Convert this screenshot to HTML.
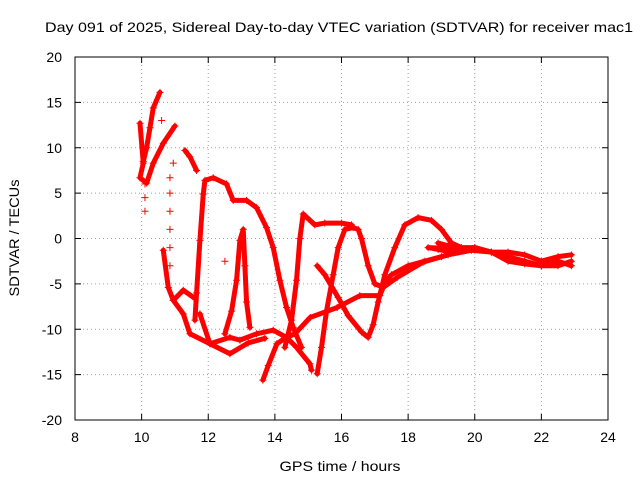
<!DOCTYPE html>
<html><head><meta charset="utf-8"><style>
html,body{margin:0;padding:0;background:#fff;}
svg{display:block;font-family:"Liberation Sans",sans-serif;}
</style></head><body>
<svg id="chart" width="640" height="480">
<text x="339" y="32" font-size="14" text-anchor="middle" textLength="588" lengthAdjust="spacingAndGlyphs">Day 091 of 2025, Sidereal Day-to-day VTEC variation (SDTVAR) for receiver mac1</text>
<text x="340" y="471" font-size="14" text-anchor="middle" textLength="121" lengthAdjust="spacingAndGlyphs">GPS time / hours</text>
<text x="19" y="238" font-size="14" text-anchor="middle" textLength="117" lengthAdjust="spacingAndGlyphs" transform="rotate(-90 19 238)">SDTVAR / TECUs</text>
<g id="grid"></g>
<g id="ticks"></g>
<g id="marks"></g>
<rect x="75" y="57" width="533" height="363" fill="none" stroke="#000"/>
</svg>
<script>
const xTicks=[8,10,12,14,16,18,20,22,24];
const yTicks=[20,15,10,5,0,-5,-10,-15,-20];
const s1=[[9.95,12.7],[10.05,8.3],[9.95,6.7],[10.15,6.1],[10.35,8.3],[10.65,10.5],[11,12.4]];
const s2=[[10.05,8.5],[10.15,10],[10.25,12.2],[10.35,14.4],[10.55,16.1]];
const s3=[[10.1,6],[10.1,4.5],[10.1,3]];
const s4=[[10.65,-1.3],[10.8,-5.4],[10.95,-6.8],[11.25,-8.3],[11.45,-10.5],[12.05,-11.6],[12.65,-10.9],[12.95,-11.2],[13.45,-10.5],[13.95,-10.1],[14.35,-10.9],[14.65,-12],[15.05,-13.8],[15.1,-14.5]];
const s4b=[[10.95,-6.8],[11.25,-5.7],[11.6,-6.6]];
const s5=[[11.3,9.7],[11.45,9],[11.65,7.5]];
const s6=[[11.6,-9],[11.65,-6],[11.75,-0.2],[11.85,4.9],[11.9,6.4],[12.15,6.7],[12.55,6],[12.75,4.2],[13.15,4.2],[13.45,3.4],[13.75,1.2],[13.95,-1],[14.15,-4.6],[14.35,-7.6],[14.55,-9.8],[14.8,-12]];
const s6b=[[11.75,-8.3],[12.05,-11.6],[12.65,-12.7],[13.2,-11.5],[13.7,-11]];
const s7=[[12.5,-10.5],[12.7,-8],[12.85,-4.6],[12.95,-0.2],[13.05,1],[13.1,-3],[13.15,-7],[13.25,-9.8]];
const s8=[[13.64,-15.6],[13.8,-14],[14.06,-11.6],[14.3,-11],[14.6,-10.5],[15.06,-8.7],[15.87,-7.6],[16.55,-6.3],[17.15,-6.3],[17.25,-5.4],[17.67,-4.3],[18.45,-2.6],[19.2,-1.8],[19.9,-1.3],[20.5,-1.5],[21,-2],[21.5,-2.5],[22,-3],[22.5,-3],[22.9,-2.5]];
const s9=[[14.3,-12],[14.5,-9],[14.65,-4.6],[14.75,0],[14.85,2.7],[15.2,1.5],[15.5,1.7],[16,1.7],[16.3,1.5]];
const s10=[[15.27,-14.9],[15.4,-12],[15.55,-8],[15.75,-4],[15.9,-1],[16.1,1],[16.35,1.2],[16.5,1],[16.6,0],[16.8,-3],[17,-5],[17.2,-5.3],[17.5,-4],[18,-3],[18.5,-2.5],[19,-2],[19.5,-1.5],[20,-1],[20.5,-1.5],[21,-1.5],[21.5,-1.8],[22,-2.5],[22.5,-2],[22.9,-1.8]];
const s11=[[15.27,-3],[15.5,-4],[15.9,-6.5],[16.2,-8.5],[16.6,-10.3],[16.8,-10.9],[16.95,-9.5],[17.1,-7],[17.3,-4],[17.6,-1],[17.9,1.5],[18.3,2.3],[18.7,2],[19,1],[19.3,-0.5],[19.6,-1],[20,-1],[20.5,-1.5],[21,-2.5],[21.5,-2.8],[22,-3],[22.5,-2.5],[22.9,-3]];
const s12=[[18.9,-0.5],[19.2,-0.8],[19.5,-1],[20,-1.2],[18.6,-1],[18.9,-1.2],[19.3,-1.5]];
const isolated=[[10.6,13],[10.95,8.3],[10.85,6.7],[10.85,5],[10.85,3],[10.85,1],[10.85,-1],[10.85,-3],[12.5,-2.5]];
const series=[s1,s2,s3,s4,s4b,s5,s6,s6b,s7,s8,s9,s10,s11,s12];
const X=v=>75+(v-8)*533/16, Y=v=>238.5-v*363/40;
const NS='http://www.w3.org/2000/svg';
function mk(t,a,p){const e=document.createElementNS(NS,t);for(const k in a)e.setAttribute(k,a[k]);p.appendChild(e);return e;}
const grid=document.getElementById('grid'),ticks=document.getElementById('ticks'),marks=document.getElementById('marks');
xTicks.forEach(v=>{const x=X(v);
 if(v>8&&v<24){const l=mk('line',{x1:x,x2:x,y1:57,y2:420,stroke:'#a0a0a0','stroke-dasharray':'1,3'},grid);}
 mk('line',{x1:x,x2:x,y1:420,y2:414,stroke:'#000'},ticks);mk('line',{x1:x,x2:x,y1:57,y2:63,stroke:'#000'},ticks);
 const t=mk('text',{x:x,y:442,'font-size':14,'text-anchor':'middle'},ticks);t.textContent=v;
 });
yTicks.forEach(v=>{const y=Y(v);
 if(v>-20&&v<20){const l=mk('line',{x1:75,x2:608,y1:y,y2:y,stroke:'#a0a0a0','stroke-dasharray':'1,3'},grid);}
 mk('line',{x1:75,x2:81,y1:y,y2:y,stroke:'#000'},ticks);mk('line',{x1:608,x2:602,y1:y,y2:y,stroke:'#000'},ticks);
 const t=mk('text',{x:62,y:y+5,'font-size':14,'text-anchor':'end'},ticks);t.textContent=v;
 });
function plus(p){const x=X(p[0]),y=Y(p[1]);
 const g=mk('path',{d:`M${x-3.5},${y}h7M${x},${y-3.5}v7`,stroke:'#f00','stroke-width':1,fill:'none'},marks);
 }
series.forEach(s=>{
 if(s.length>3||s===s5||s===s4b){const pl=mk('polyline',{points:s.map(p=>X(p[0])+','+Y(p[1])).join(' '),fill:'none',stroke:'#f00','stroke-width':5,'stroke-linejoin':'round','stroke-linecap':'round'},marks);
 }
 s.forEach(plus);});
isolated.forEach(plus);
</script>
</body></html>
